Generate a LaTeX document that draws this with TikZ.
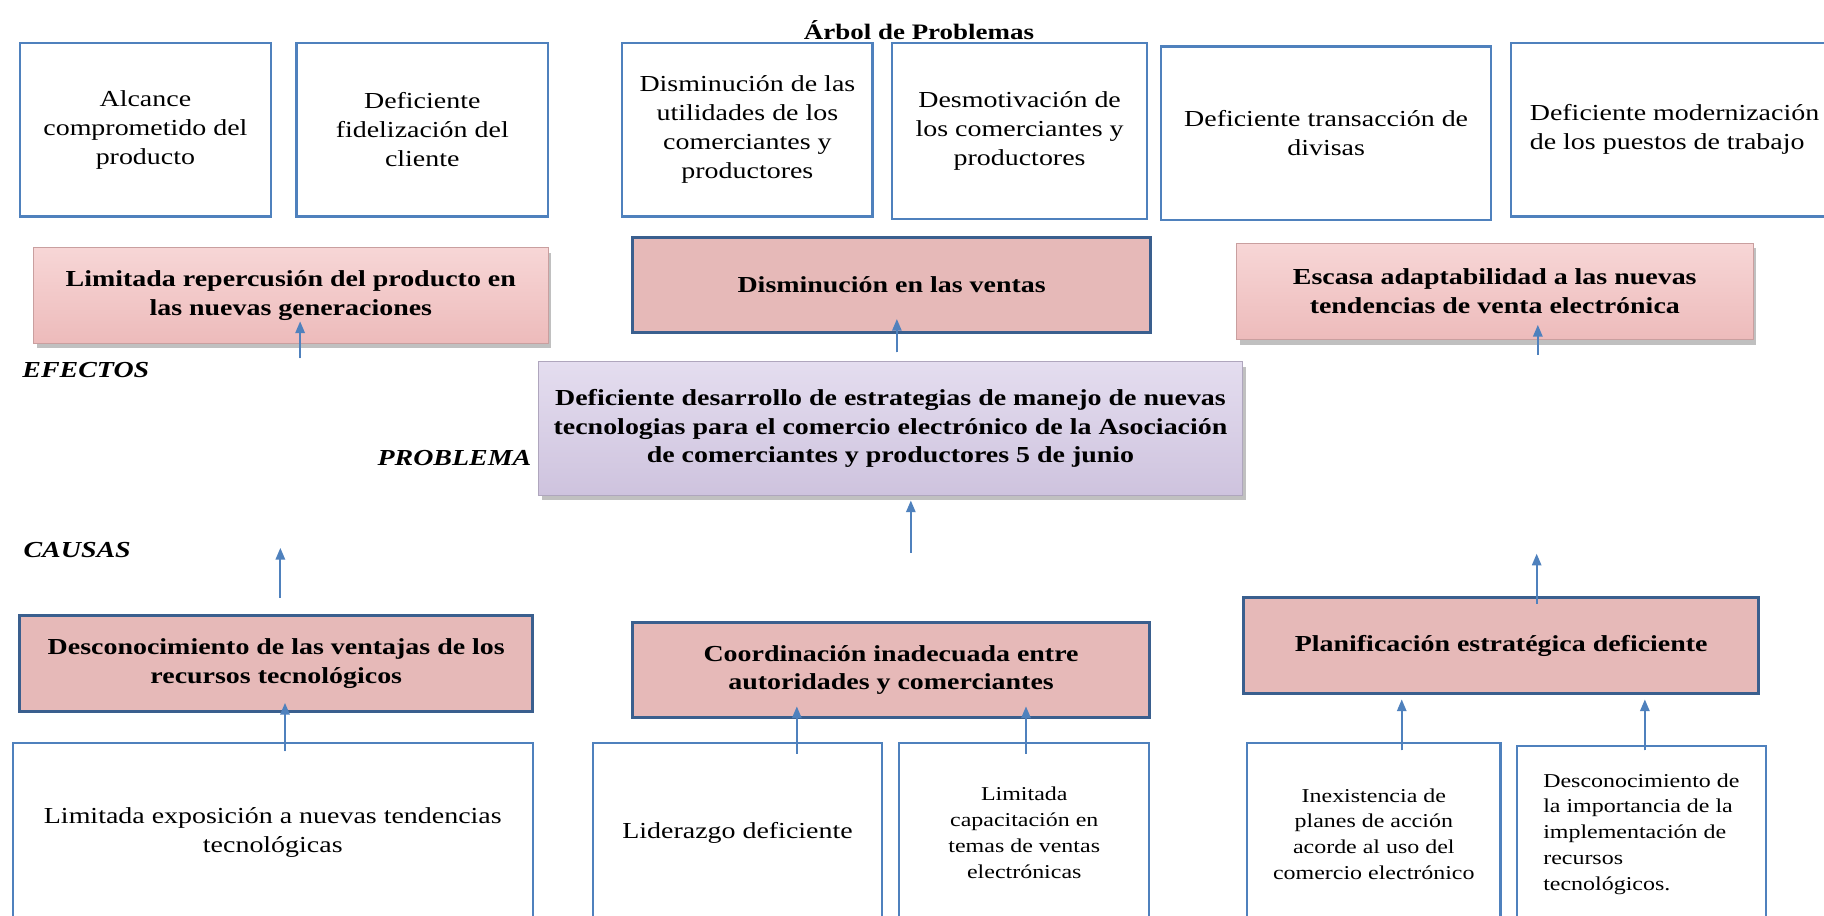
\documentclass[tikz,border=0pt]{standalone}
\usepackage{fontspec}
\setmainfont{Liberation Serif}[FakeStretch=1.22]
\usetikzlibrary{arrows.meta,shadows,calc}
\definecolor{boxblue}{HTML}{4F81BD}
\definecolor{edgeblue}{HTML}{3A5F8E}
\definecolor{rosefill}{HTML}{E6B9B8}
\definecolor{rosetop}{HTML}{F7D6D6}
\definecolor{rosebot}{HTML}{EDBBBB}
\definecolor{lilactop}{HTML}{E4DDEF}
\definecolor{lilacbot}{HTML}{CEC3DE}

\begin{document}
\begin{tikzpicture}[x=0.025cm, y=-0.025cm, >={Triangle[length=2.5mm,width=2mm]},
  boxsize/.style 2 args={minimum width=#1*0.025cm, minimum height=#2*0.025cm},
  whitebox/.style={draw=boxblue, line width=1.4pt, fill=white, align=center, inner sep=0pt, font=\fontsize{14}{17.8}\selectfont},
  smallbox/.style={whitebox, font=\fontsize{12}{15.8}\selectfont},
  flatbox/.style={draw=edgeblue, line width=1.8pt, fill=rosefill, align=center, inner sep=0pt, font=\fontsize{14}{17.4}\selectfont\bfseries},
  glossbox/.style={draw=rosebot!85!black, line width=0.4pt, top color=rosetop, bottom color=rosebot, align=center, inner sep=0pt,
    drop shadow={shadow xshift=2pt, shadow yshift=-3pt, opacity=0.35, fill=black!70}, font=\fontsize{14}{17.4}\selectfont\bfseries},
  lilacbox/.style={glossbox, draw=lilacbot!85!black, top color=lilactop, bottom color=lilacbot},
  sidelabel/.style={font=\fontsize{14}{17}\selectfont\bfseries\itshape, inner sep=0pt},
  arrowup/.style={->, draw=boxblue, fill=boxblue, line width=1.1pt}]
\useasboundingbox (0,0) rectangle (1568,787);
\clip (0,0) rectangle (1568,787);
\fill[white] (0,0) rectangle (1568,787);
\node[font=\fontsize{13.5}{16}\selectfont\bfseries] (title) at (790,26) {Árbol de Problemas};
\node[whitebox, boxsize={216}{149}] (alc) at (125,111.5) {Alcance\\comprometido del\\producto};
\node[whitebox, boxsize={216}{149}] (fid) at (363,111.5) {Deficiente\\fidelización del\\cliente};
\node[whitebox, boxsize={215}{149}] (util) at (642.5,111.5) {Disminución de las\\utilidades de los\\comerciantes y\\productores};
\node[whitebox, boxsize={219}{151}] (desm) at (876.5,112.5) {Desmotivación de\\los comerciantes y\\productores};
\node[whitebox, boxsize={284}{149}] (trans) at (1140,114.5) {Deficiente transacción de\\divisas};
\node[whitebox, boxsize={281}{149}, align=left] (moder) at (1439.5,111.5) {Deficiente modernización\\de los puestos de trabajo};
\node[glossbox, boxsize={442}{82}] (rep) at (250,254) {Limitada repercusión del producto en\\las nuevas generaciones};
\node[flatbox, boxsize={445}{82}] (vent) at (766.5,245) {Disminución en las ventas};
\node[glossbox, boxsize={444}{83}] (esc) at (1285,250.5) {Escasa adaptabilidad a las nuevas\\tendencias de venta electrónica};
\node[lilacbox, boxsize={605}{115}] (prob) at (765.5,368.5) {Deficiente desarrollo de estrategias de manejo de nuevas\\tecnologias para el comercio electrónico de la Asociación\\de comerciantes y productores 5 de junio};
\node[sidelabel, anchor=west] (efe) at (19,318) {EFECTOS};
\node[sidelabel, anchor=east] (pro) at (457,394) {PROBLEMA};
\node[sidelabel, anchor=west] (cau) at (20,473) {CAUSAS};
\node[flatbox, boxsize={441}{83}] (desc) at (237.5,570.5) {Desconocimiento de las ventajas de los\\recursos tecnológicos};
\node[flatbox, boxsize={444}{82}] (coord) at (766,576) {Coordinación inadecuada entre\\autoridades y comerciantes};
\node[flatbox, boxsize={443}{82}] (plan) at (1290.5,555) {Planificación estratégica deficiente};
\node[whitebox, boxsize={447}{154}] (expo) at (234.5,716) {Limitada exposición a nuevas tendencias\\tecnológicas};
\node[whitebox, boxsize={248}{154}] (lider) at (634,716) {Liderazgo deficiente};
\node[smallbox, boxsize={215}{154}] (capac) at (880.5,716) {Limitada\\capacitación en\\temas de ventas\\electrónicas};
\node[smallbox, boxsize={218}{156}] (inex) at (1181,717) {Inexistencia de\\planes de acción\\acorde al uso del\\comercio electrónico};
\node[smallbox, boxsize={214}{152}, align=left] (desimp) at (1411,717) {Desconocimiento de\\la importancia de la\\implementación de\\recursos\\tecnológicos.};
\coordinate (t1) at (258,308);
\coordinate (t2) at (771,303);
\coordinate (t3) at (1322,305);
\coordinate (t4) at (241,514);
\coordinate (t5) at (783,475);
\coordinate (t6) at (1321,519);
\coordinate (t7) at (245,646);
\coordinate (t8) at (685,648);
\coordinate (t9) at (882,648);
\coordinate (t10) at (1205,645);
\coordinate (t11) at (1414,645);
\draw[arrowup] (t1) -- ($(t1 |- rep.south)+(0,-19)$);
\draw[arrowup] (t2) -- ($(t2 |- vent.south)+(0,-13)$);
\draw[arrowup] (t3) -- ($(t3 |- esc.south)+(0,-13)$);
\draw[arrowup] (t4) -- ++(0,-43);
\draw[arrowup] (t5) -- ($(t5 |- prob.south)+(0,4)$);
\draw[arrowup] (t6) -- ++(0,-43);
\draw[arrowup] (t7) -- ($(t7 |- desc.south)+(0,-9)$);
\draw[arrowup] (t8) -- ($(t8 |- coord.south)+(0,-11)$);
\draw[arrowup] (t9) -- ($(t9 |- coord.south)+(0,-11)$);
\draw[arrowup] (t10) -- ($(t10 |- plan.south)+(0,4)$);
\draw[arrowup] (t11) -- ($(t11 |- plan.south)+(0,4)$);
\end{tikzpicture}
\end{document}
